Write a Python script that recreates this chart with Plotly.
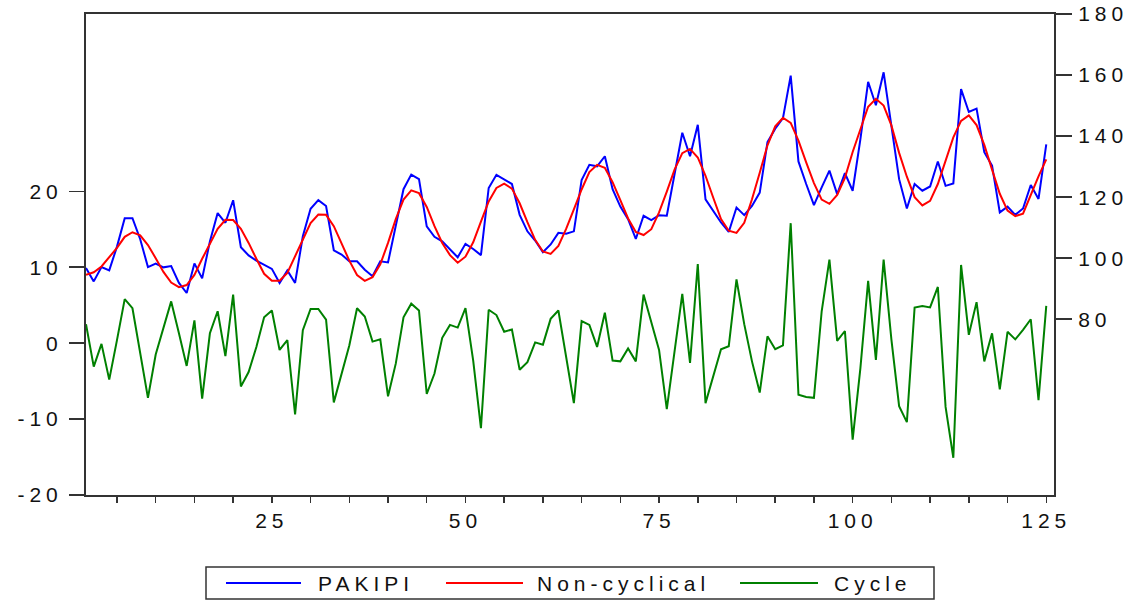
import plotly.graph_objects as go

# ---------------- data ----------------
periods = list(range(1, 126))

pakipi = [96.8, 92.4, 97.1, 96.0, 103.8, 113.1, 113.1, 106.2, 97.1, 98.2,
          97.0, 97.4, 91.9, 88.6, 98.3, 93.4, 105.5, 114.8, 111.6, 119.0,
          103.6, 100.9, 99.2, 97.8, 96.5, 91.9, 96.0, 91.9, 107.2, 116.2,
          119.0, 117.1, 102.6, 101.2, 99.0, 99.0, 96.2, 94.1, 99.0, 98.6,
          110.5, 122.6, 127.4, 125.9, 110.4, 107.0, 105.5, 103.0, 100.3, 104.7,
          103.0, 101.0, 123.0, 127.3, 125.9, 124.3, 114.2, 108.8, 105.8, 102.0,
          104.5, 108.3, 108.0, 108.8, 125.6, 130.6, 130.1, 133.4, 122.6, 116.9,
          112.8, 106.3, 113.9, 112.5, 114.1, 113.9, 127.5, 141.1, 133.4, 143.7,
          119.3, 115.5, 111.7, 108.6, 116.6, 114.1, 117.1, 121.5, 138.0, 142.4,
          145.9, 159.8, 131.7, 124.3, 117.4, 123.2, 128.7, 121.0, 127.9, 122.1,
          139.0, 157.8, 150.1, 160.9, 144.0, 125.9, 116.3, 124.3, 122.1, 123.5,
          131.7, 123.7, 124.5, 155.4, 147.9, 149.0, 134.7, 130.3, 115.0, 116.9,
          114.2, 116.3, 124.0, 119.4, 137.3]

non_cyclical = [94.6, 95.4, 97.3, 100.4, 103.4, 107.0, 108.5, 107.5, 104.3, 100.0,
                95.5, 92.0, 90.5, 91.2, 94.5, 99.8, 104.5, 109.6, 112.6, 112.5,
                109.6, 105.0, 99.8, 94.9, 92.6, 92.6, 95.2, 100.5, 106.0, 111.5,
                114.3, 114.2, 110.5, 105.0, 99.2, 94.5, 92.6, 93.8, 98.0, 105.0,
                112.8, 119.2, 122.2, 121.3, 116.8, 110.5, 105.0, 101.0, 98.5, 100.5,
                105.2, 112.0, 118.6, 123.0, 124.4, 122.8, 118.0, 111.8, 106.0, 102.2,
                101.4, 104.0, 109.6, 116.0, 122.5, 128.2, 130.6, 129.6, 124.9, 119.0,
                113.0, 108.6, 107.6, 109.5, 115.0, 121.8, 129.0, 134.4, 135.8, 133.0,
                127.0, 119.8, 112.8, 109.0, 108.3, 111.6, 119.3, 128.0, 137.0, 143.2,
                146.0, 144.3, 138.5, 131.4, 124.6, 119.2, 117.8, 120.7, 126.3, 134.8,
                142.5, 149.6, 152.2, 150.0, 143.5, 134.5, 126.7, 120.0, 117.3, 118.8,
                124.3, 132.0, 139.6, 145.0, 146.8, 143.6, 137.1, 129.0, 121.1, 115.6,
                113.8, 114.6, 120.8, 126.8, 132.4]

cycle = [2.5, -3.1, -0.1, -4.8, 0.4, 5.8, 4.6, -1.3, -7.2, -1.5,
         1.9, 5.5, 1.3, -3.0, 3.0, -7.3, 1.3, 4.2, -1.7, 6.4,
         -5.7, -3.8, -0.5, 3.4, 4.3, -0.9, 0.4, -9.4, 1.7, 4.5,
         4.5, 3.1, -7.8, -4.0, -0.3, 4.6, 3.5, 0.2, 0.5, -7.0,
         -2.7, 3.4, 5.2, 4.3, -6.7, -4.0, 0.7, 2.4, 2.05, 4.6,
         -2.3, -11.2, 4.4, 3.7, 1.5, 1.8, -3.5, -2.5, 0.1, -0.2,
         3.2, 4.3, -1.8, -7.9, 2.9, 2.4, -0.5, 4.0, -2.3, -2.4,
         -0.7, -2.4, 6.4, 2.8, -0.9, -8.7, -1.2, 6.5, -2.6, 10.4,
         -7.9, -4.2, -0.8, -0.4, 8.4, 2.5, -2.4, -6.5, 0.9, -0.8,
         -0.3, 15.8, -6.8, -7.1, -7.2, 4.2, 11.0, 0.3, 1.6, -12.7,
         -3.3, 8.2, -2.2, 11.0, 0.5, -8.3, -10.4, 4.7, 4.9, 4.7,
         7.4, -8.4, -15.1, 10.3, 1.1, 5.4, -2.4, 1.3, -6.1, 1.5,
         0.5, 1.75, 3.15, -7.5, 4.9]

series_names = ["PAKIPI", "Non-cyclical", "Cycle"]
series_colors = ["#0000FF", "#FF0000", "#008000"]

left_tickvals = [-20, -10, 0, 10, 20]
left_ticklabels = ["-20", "-10", "0", "10", "20"]
right_tickvals = [80, 100, 120, 140, 160, 180]
right_ticklabels = ["80", "100", "120", "140", "160", "180"]
x_tickvals = list(range(5, 126, 5))
x_ticklabels = ["", "", "", "", "25", "", "", "", "", "50", "", "", "", "", "75",
                "", "", "", "", "100", "", "", "", "", "125"]

# ---------------- style ----------------
FONT = "Liberation Sans, Arial, sans-serif"
FSIZE = 21
TXT = "#111111"
FRAME = "#333333"
SPACING = 5


def spaced(t):
    return f'<span style="letter-spacing:{SPACING}px">{t}</span>' if t else ""


W, H = 1144, 600
ML, MR, MT, MB = 86, 90, 14, 105
PW, PH = W - ML - MR, H - MT - MB


def px(xp):
    return (xp - ML) / PW


def py(yp):
    return (H - MB - yp) / PH


fig = go.Figure()
fig.add_trace(go.Scatter(x=periods, y=pakipi, name=series_names[0], mode="lines",
                         line=dict(color=series_colors[0], width=2), yaxis="y2"))
fig.add_trace(go.Scatter(x=periods, y=non_cyclical, name=series_names[1], mode="lines",
                         line=dict(color=series_colors[1], width=2), yaxis="y2"))
fig.add_trace(go.Scatter(x=periods, y=cycle, name=series_names[2], mode="lines",
                         line=dict(color=series_colors[2], width=2), yaxis="y"))

tickfont = dict(family=FONT, size=FSIZE, color=TXT)

fig.update_layout(
    width=W, height=H,
    margin=dict(l=ML, r=MR, t=MT, b=MB, autoexpand=False),
    paper_bgcolor="white", plot_bgcolor="white",
    showlegend=False,
    xaxis=dict(range=[1, 126], showgrid=False, zeroline=False,
               showline=True, linecolor=FRAME, linewidth=2, mirror=True,
               ticks="outside", ticklen=6, tickwidth=1.5, tickcolor=FRAME,
               tickvals=x_tickvals, ticktext=[spaced(t) for t in x_ticklabels],
               tickfont=tickfont, ticklabelstandoff=0),
    yaxis=dict(range=[-20, 43.35], showgrid=False, zeroline=False,
               showline=True, linecolor=FRAME, linewidth=2,
               ticks="outside", ticklen=15, tickwidth=1.5, tickcolor=FRAME,
               tickvals=left_tickvals, ticktext=[spaced(t) for t in left_ticklabels],
               tickfont=tickfont, ticklabelstandoff=2),
    yaxis2=dict(range=[22.42, 180], overlaying="y", side="right",
                showgrid=False, zeroline=False,
                showline=True, linecolor=FRAME, linewidth=2,
                ticks="outside", ticklen=16, tickwidth=1.5, tickcolor=FRAME,
                tickvals=right_tickvals, ticktext=[spaced(t) for t in right_ticklabels],
                tickfont=tickfont, ticklabelstandoff=2),
)

# ---------------- legend (drawn below the plot, EViews style) ----------------
shapes = [dict(type="rect", xref="paper", yref="paper",
               x0=px(206), x1=px(934), y0=py(599), y1=py(567),
               line=dict(color=FRAME, width=1.5), fillcolor="white", layer="above")]
line_spans = [(226, 301), (446, 523), (740, 818)]
text_starts = [316, 535, 832]
LEG_Y = 583
for (a, b), c in zip(line_spans, series_colors):
    shapes.append(dict(type="line", xref="paper", yref="paper",
                       x0=px(a), x1=px(b), y0=py(LEG_Y), y1=py(LEG_Y),
                       line=dict(color=c, width=2)))
annotations = []
for name, xs in zip(series_names, text_starts):
    annotations.append(dict(xref="paper", yref="paper", x=px(xs), y=py(LEG_Y),
                            xanchor="left", yanchor="middle", showarrow=False,
                            text=spaced(name),
                            font=dict(family=FONT, size=FSIZE, color=TXT)))
fig.update_layout(shapes=shapes, annotations=annotations)

# remove the browser's default 8px page margin so the figure sits at (0, 0)
fig.write_html("out.html",
               config={"displayModeBar": False, "staticPlot": True},
               post_script="document.body.style.margin='0';document.body.style.overflow='hidden';")
